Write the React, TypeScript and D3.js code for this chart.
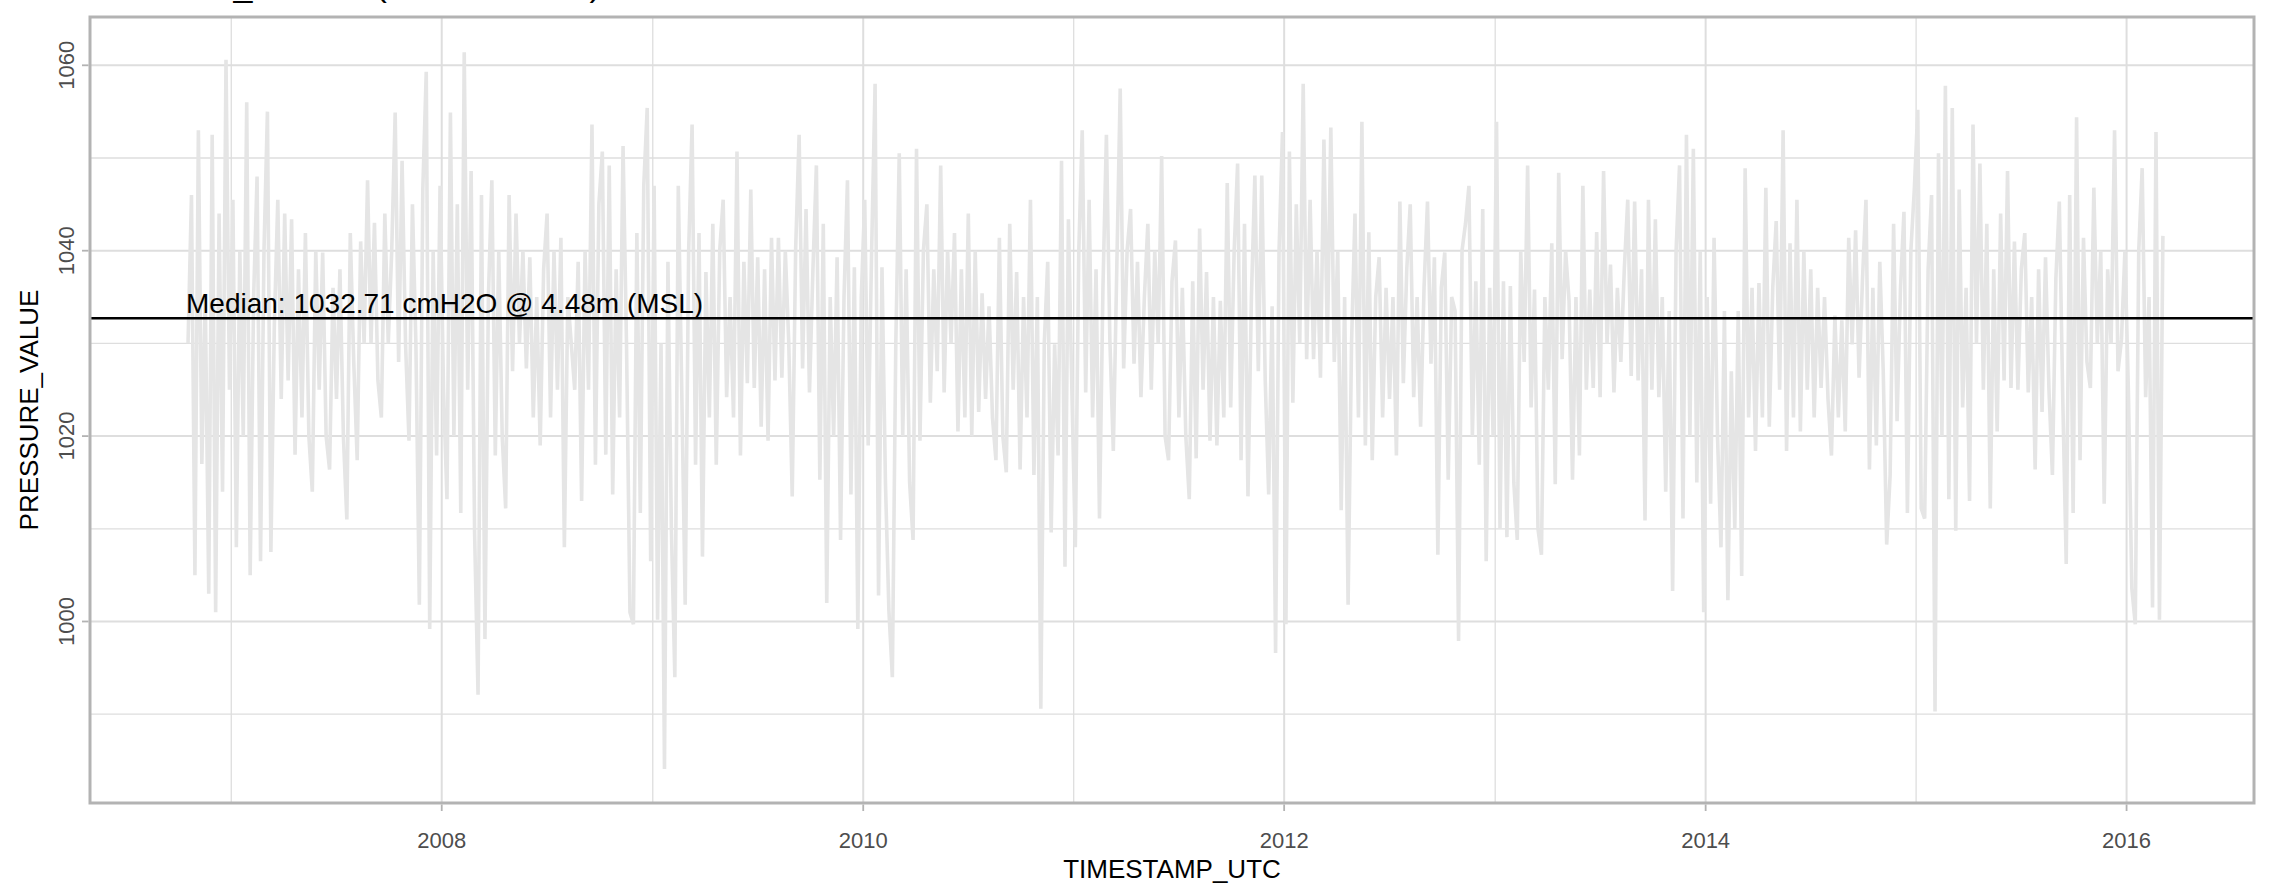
import React from "react";
import * as d3 from "d3";

// ---------- data ----------
const TITLE = "SENSOR_404250 (DAILY MEAN)";
const X_TITLE = "TIMESTAMP_UTC";
const Y_TITLE = "PRESSURE_VALUE";
const MEDIAN_VALUE = 1032.71;
const MEDIAN_LABEL = "Median: 1032.71 cmH2O @ 4.48m (MSL)";
const SERIES_START = "2006-10-18";
const SERIES_END = "2016-03-04";
const X_DOMAIN = ["2006-05-01", "2016-08-09"];
const Y_DOMAIN = [980.42, 1065.21];
const X_MAJOR_YEARS = [2008, 2010, 2012, 2014, 2016];
const X_MINOR_YEARS = [2007, 2009, 2011, 2013, 2015];
const Y_MAJOR = [1000, 1020, 1040, 1060];
const Y_MINOR = [990, 1010, 1030, 1050];

const PRESSURE_A = [
  1030, 1046, 1005, 1053, 1017, 1035, 1003, 1052.5, 1001, 1044, 1014, 1060.6, 1025, 1045.5, 1008, 1040,
  1020, 1056, 1005, 1035, 1048, 1006.5, 1040, 1055, 1007.5, 1032, 1045.5, 1024, 1044, 1026, 1043.4, 1018,
  1038, 1022, 1041.9, 1020, 1014, 1040, 1025, 1039.8, 1020, 1016.4, 1036, 1024, 1038, 1020, 1011, 1041.9,
  1028, 1017.4, 1041, 1030, 1047.6, 1030, 1043, 1026, 1022, 1044, 1030, 1040, 1054.9, 1028, 1049.7, 1030,
  1019.5, 1045, 1030, 1001.8, 1046.6, 1059.3, 999.2, 1040, 1017.9, 1047, 1025, 1013.2, 1054.9, 1020, 1045,
  1011.7, 1061.4, 1025, 1048.6, 1009.6, 992.1, 1046, 998.1, 1035, 1047.6, 1017.9, 1040, 1020, 1012.2, 1046,
  1027, 1044, 1030, 1040, 1027.3, 1039.3, 1022, 1035, 1019, 1038, 1044, 1022, 1040, 1025, 1041.4, 1008,
  1035, 1030, 1025,
];
const PRESSURE_B = [
  1038.8, 1013, 1040, 1025, 1053.6, 1016.9, 1045, 1050.7, 1018, 1049.2, 1013.7, 1038, 1022, 1051.3, 1030,
  1001, 999.7, 1041.9, 1011.7, 1047, 1055.4, 1006.5, 1047, 1000.2, 1030, 984.1, 1038.8, 1010, 994, 1047,
  1025, 1001.8, 1040, 1053.6, 1016.9, 1041.9, 1007, 1037.7, 1022, 1042.9, 1016.9, 1040, 1045.5, 1024.2, 1035,
  1022, 1050.7, 1017.9, 1038.8, 1025.7, 1046.6, 1025.2, 1039.3, 1021, 1038, 1019.5, 1041.4, 1026, 1041.4,
  1026.3, 1040, 1030, 1013.5, 1040.3, 1052.5, 1027.3, 1044.5, 1024.7, 1038, 1049.2, 1015.3, 1042.9, 1002,
  1035, 1020, 1039.3, 1008.8, 1035, 1047.6, 1013.7, 1038.2, 999.2, 1035, 1045.5, 1019, 1040, 1058, 1002.8,
  1038.2, 1015, 1001.2, 994, 1030, 1050.5, 1020, 1038, 1015, 1008.8, 1051, 1019.5, 1040, 1045, 1023.6, 1038,
  1027, 1049.2, 1024.7, 1040, 1030, 1041.9, 1020.5, 1038, 1022, 1044, 1020, 1040,
];
const PRESSURE_C = [
  1022.6, 1035.4, 1024, 1034, 1022, 1017.4, 1041.4, 1020, 1016.1, 1042.9, 1025, 1037.7, 1016.4, 1035, 1022,
  1045.5, 1015.8, 1035, 990.6, 1030, 1038.8, 1009.6, 1029.9, 1017.9, 1049.7, 1005.9, 1043.4, 1025, 1008, 1040,
  1053, 1024.7, 1045.5, 1022, 1038, 1011.1, 1036, 1052.5, 1030.4, 1018.4, 1038, 1057.5, 1027.3, 1040, 1044.5,
  1027.8, 1038.8, 1024.2, 1035, 1042.9, 1025, 1040, 1030, 1050.2, 1020, 1017.4, 1036.7, 1041.1, 1022, 1036,
  1020, 1013.2, 1036.7, 1017.6, 1042.4, 1025, 1037.7, 1019.5, 1035, 1019, 1034.6, 1022, 1047.3, 1023.1, 1040,
  1049.4, 1017.4, 1042.9, 1013.5, 1035, 1048.1, 1027, 1048.1, 1026, 1013.7, 1034, 996.6, 1040, 1052.8, 999.7,
  1050.7, 1023.6, 1045, 1030, 1058, 1028.3, 1045.5, 1028.3, 1040, 1026.3, 1052, 1030, 1053.3, 1028, 1040,
  1012, 1035, 1001.8, 1030, 1044, 1022, 1053.9, 1019, 1042, 1017.4, 1035,
];
const PRESSURE_D = [
  1039.3, 1022, 1036, 1024, 1035, 1017.9, 1045.3, 1025.7, 1038, 1045, 1024.2, 1035, 1021, 1036, 1045.3,
  1027.8, 1039.3, 1007.2, 1036, 1039.8, 1015.3, 1035, 1033.5, 997.9, 1040, 1042.9, 1047, 1020, 1036.7, 1016.9,
  1044.5, 1006.5, 1036, 1020, 1053.9, 1010.1, 1036.7, 1009.1, 1036.2, 1015, 1008.8, 1040, 1028, 1049.2,
  1023.1, 1035.8, 1010, 1007.2, 1035, 1025, 1040.8, 1014.8, 1048.4, 1028.3, 1040, 1034.6, 1015.3, 1035,
  1017.9, 1047, 1025, 1035.8, 1025.2, 1042, 1024.2, 1048.6, 1030, 1038.5, 1024.7, 1036, 1028, 1038, 1045.5,
  1026.5, 1045.3, 1026, 1038, 1010.9, 1045.5, 1025, 1043.4, 1024.2, 1035, 1014, 1033.5, 1003.3, 1040, 1049.2,
  1011.1, 1052.5, 1020, 1051, 1015, 1040, 1001, 1035, 1012.7, 1041.4, 1020, 1008, 1033.5, 1002.3, 1027, 1010,
  1033.5, 1004.9, 1048.9, 1022, 1036, 1018.4, 1036.5, 1022, 1046.8, 1021, 1036, 1043.2,
];
const PRESSURE_E = [
  1025, 1053, 1018.4, 1040.8, 1022, 1045.5, 1020.5, 1040, 1025, 1038, 1022, 1036, 1025.2, 1035, 1024, 1017.9,
  1033, 1022, 1032.5, 1020.5, 1041.4, 1029.9, 1042.2, 1026.3, 1037, 1045.5, 1016.4, 1036, 1019, 1038.8, 1027,
  1008.3, 1015.8, 1042.9, 1021.6, 1036, 1044.2, 1011.7, 1040, 1046.6, 1055.2, 1012.2, 1011.1, 1038, 1046,
  990.3, 1050.5, 1020, 1057.8, 1013.2, 1055.4, 1009.8, 1046.6, 1023.1, 1036, 1013, 1053.6, 1030, 1049.4, 1025,
  1042.9, 1012.2, 1038, 1020.5, 1044, 1026, 1048.6, 1025.2, 1041, 1025, 1038, 1041.9, 1024.7, 1035, 1016.4,
  1038, 1022.6, 1039.3, 1025, 1015.8, 1037, 1045.3, 1024, 1006.2, 1046, 1011.7, 1054.4, 1017.4, 1041.4, 1028,
  1025.2, 1046.8, 1030, 1040, 1012.7, 1038, 1030, 1053, 1027, 1030.4, 1040, 1025, 1003.6, 999.7, 1040, 1048.9,
  1024.2, 1035, 1001.5, 1052.8, 1000.2, 1041.6,
];

// ---------- layout ----------
const W = 2277;
const H = 886;
const PANEL = { left: 90, right: 2254, top: 17, bottom: 803 };
const FONT = "'Liberation Sans', Arial, sans-serif";

export default function App() {
  const parse = d3.utcParse("%Y-%m-%d");
  const x = d3
    .scaleUtc()
    .domain(X_DOMAIN.map((d) => parse(d) as Date))
    .range([PANEL.left, PANEL.right]);
  const y = d3.scaleLinear().domain(Y_DOMAIN).range([PANEL.bottom, PANEL.top]);

  const values = [...PRESSURE_A, ...PRESSURE_B, ...PRESSURE_C, ...PRESSURE_D, ...PRESSURE_E];
  const t0 = (parse(SERIES_START) as Date).getTime();
  const t1 = (parse(SERIES_END) as Date).getTime();
  const step = (t1 - t0) / (values.length - 1);
  const data = values.map((v, i) => ({ date: new Date(t0 + i * step), value: v }));

  const line = d3
    .line<{ date: Date; value: number }>()
    .x((d) => x(d.date))
    .y((d) => y(d.value));

  const yearDate = (yr: number) => new Date(Date.UTC(yr, 0, 1));
  const gridColor = "#DEDEDE";
  const axisTextColor = "#4D4D4D";
  const tickColor = "#B3B3B3";

  return (
    <svg
      width={W}
      height={H}
      style={{ position: "absolute", left: 0, top: 0, background: "#fff", overflow: "hidden" }}
      fontFamily={FONT}
    >
      <rect x={0} y={0} width={W} height={H} fill="#fff" />
      {/* title (clipped at top, as in the reference) */}
      <text x={PANEL.left} y={-4} fontSize={34} fill="#000">
        {TITLE}
      </text>
      {/* panel background */}
      <rect x={PANEL.left} y={PANEL.top} width={PANEL.right - PANEL.left} height={PANEL.bottom - PANEL.top} fill="#fff" />
      {/* minor grid */}
      {Y_MINOR.map((v) => (
        <line key={"ym" + v} x1={PANEL.left} x2={PANEL.right} y1={y(v)} y2={y(v)} stroke={gridColor} strokeWidth={1.3} />
      ))}
      {X_MINOR_YEARS.map((yr) => (
        <line key={"xm" + yr} y1={PANEL.top} y2={PANEL.bottom} x1={x(yearDate(yr))} x2={x(yearDate(yr))} stroke={gridColor} strokeWidth={1.3} />
      ))}
      {/* major grid */}
      {Y_MAJOR.map((v) => (
        <line key={"yM" + v} x1={PANEL.left} x2={PANEL.right} y1={y(v)} y2={y(v)} stroke={gridColor} strokeWidth={2} />
      ))}
      {X_MAJOR_YEARS.map((yr) => (
        <line key={"xM" + yr} y1={PANEL.top} y2={PANEL.bottom} x1={x(yearDate(yr))} x2={x(yearDate(yr))} stroke={gridColor} strokeWidth={2} />
      ))}
      {/* series */}
      <path d={line(data) || ""} fill="none" stroke="#E5E5E5" strokeWidth={3.6} strokeLinejoin="miter" strokeMiterlimit={2} />
      {/* median */}
      <line x1={PANEL.left} x2={PANEL.right} y1={y(MEDIAN_VALUE)} y2={y(MEDIAN_VALUE)} stroke="#000" strokeWidth={2.4} />
      <text x={x(data[0].date) - 2} y={y(MEDIAN_VALUE) - 5} fontSize={28} fill="#000">
        {MEDIAN_LABEL}
      </text>
      {/* border */}
      <rect
        x={PANEL.left}
        y={PANEL.top}
        width={PANEL.right - PANEL.left}
        height={PANEL.bottom - PANEL.top}
        fill="none"
        stroke="#B3B3B3"
        strokeWidth={3}
      />
      {/* x axis ticks and labels */}
      {X_MAJOR_YEARS.map((yr) => (
        <g key={"xt" + yr}>
          <line x1={x(yearDate(yr))} x2={x(yearDate(yr))} y1={PANEL.bottom + 1.5} y2={PANEL.bottom + 8} stroke={tickColor} strokeWidth={1.8} />
          <text x={x(yearDate(yr))} y={PANEL.bottom + 45} fontSize={22} fill={axisTextColor} textAnchor="middle">
            {String(yr)}
          </text>
        </g>
      ))}
      {/* y axis ticks and labels (rotated) */}
      {Y_MAJOR.map((v) => (
        <g key={"yt" + v}>
          <line x1={PANEL.left - 8} x2={PANEL.left - 1.5} y1={y(v)} y2={y(v)} stroke={tickColor} strokeWidth={1.8} />
          <text
            transform={`translate(${PANEL.left - 16},${y(v)}) rotate(-90)`}
            fontSize={22}
            fill={axisTextColor}
            textAnchor="middle"
          >
            {String(v)}
          </text>
        </g>
      ))}
      {/* axis titles */}
      <text x={(PANEL.left + PANEL.right) / 2} y={878} fontSize={26} fill="#000" textAnchor="middle">
        {X_TITLE}
      </text>
      <text
        transform={`translate(${38},${(PANEL.top + PANEL.bottom) / 2}) rotate(-90)`}
        fontSize={26}
        fill="#000"
        textAnchor="middle"
      >
        {Y_TITLE}
      </text>
    </svg>
  );
}
